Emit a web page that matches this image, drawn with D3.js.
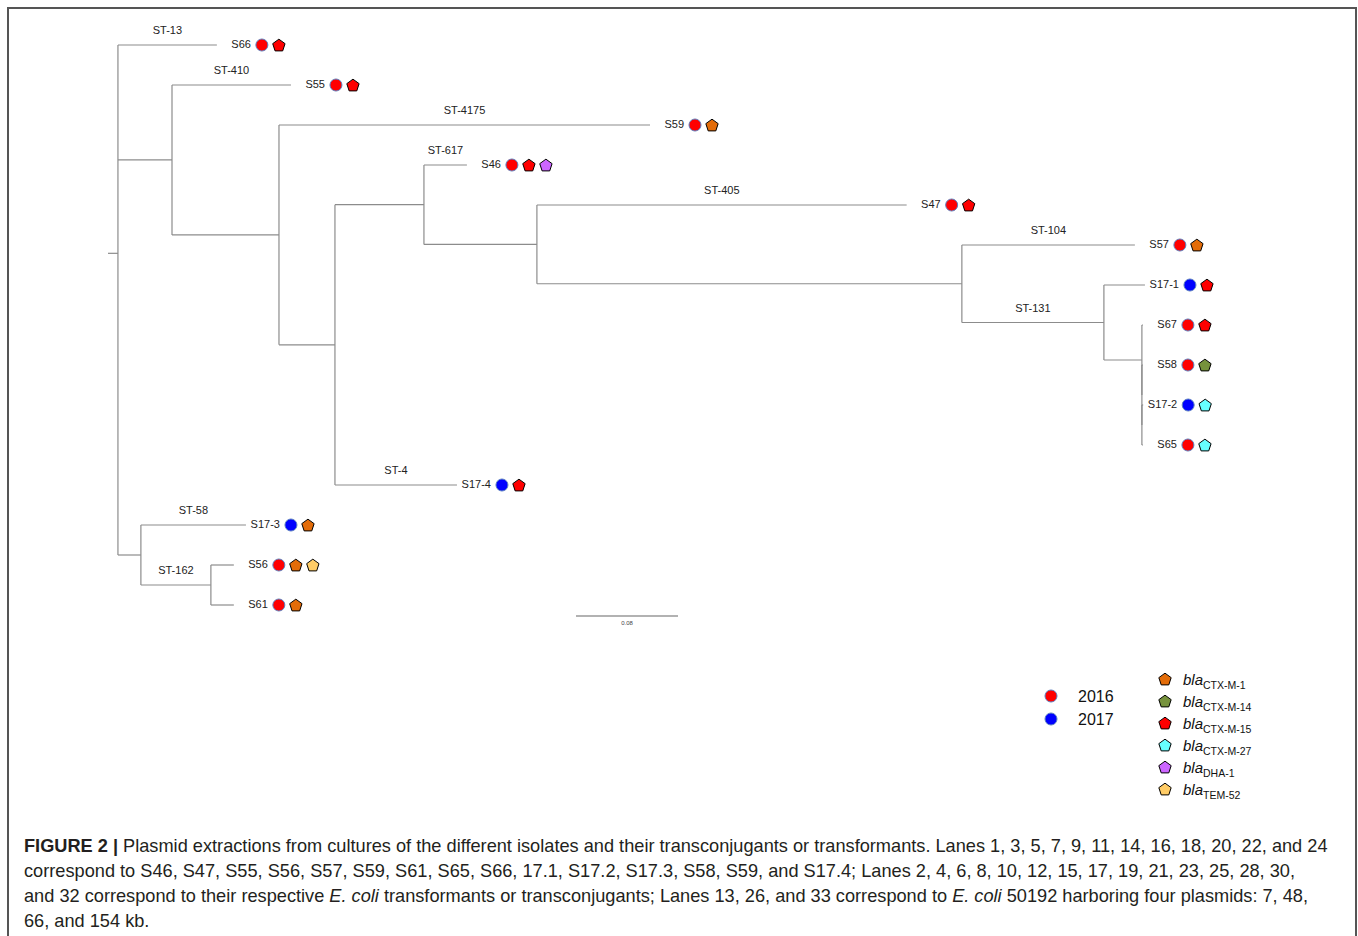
<!DOCTYPE html>
<html>
<head>
<meta charset="utf-8">
<script src="https://cdn.jsdelivr.net/npm/d3@7"></script>
<style>
  body { margin: 0; background: #fff; }
  text { font-family: "Liberation Sans", Arial, sans-serif; }
</style>
</head>
<body>
<svg id="tree_fig" width="1358" height="936"></svg>
<script>
(() => {

// tree: [node, parent, branch length]
const edges = [
    ['root', null, 0.0078],
    ['S66', 'root', 0.0776],
    ['n1', 'root', 0.0424],
    ['n10', 'root', 0.018],
    ['S55', 'n1', 0.0933],
    ['n2', 'n1', 0.0839],
    ['S59', 'n2', 0.291],
    ['n3', 'n2', 0.0439],
    ['n4', 'n3', 0.0698],
    ['S17-4', 'n3', 0.0957],
    ['S46', 'n4', 0.0337],
    ['n5', 'n4', 0.0886],
    ['S47', 'n5', 0.290],
    ['n6', 'n5', 0.3333],
    ['S57', 'n6', 0.1357],
    ['n7', 'n6', 0.1114],
    ['S17-1', 'n7', 0.0322],
    ['n8', 'n7', 0.0298],
    ['S67', 'n8', 0.0008],
    ['n9', 'n8', 0.0],
    ['S58', 'n9', 0.0008],
    ['n9b', 'n9', 0.0],
    ['S17-2', 'n9b', 0.0010],
    ['S65', 'n9b', 0.0008],
    ['S17-3', 'n10', 0.0824],
    ['n11', 'n10', 0.0549],
    ['S56', 'n11', 0.018],
    ['S61', 'n11', 0.018]
];

// sequence types written over branches
const st_nodes  = ['S66', 'S55', 'S59', 'S46', 'S47', 'S57', 'n7', 'S17-4', 'S17-3', 'n11'];
const st_labels = ['ST-13', 'ST-410', 'ST-4175', 'ST-617', 'ST-405', 'ST-104', 'ST-131', 'ST-4', 'ST-58', 'ST-162'];

// isolates: year and bla genes
const isolates = ['S66', 'S55', 'S59', 'S46', 'S47', 'S57', 'S17-1', 'S67', 'S58', 'S17-2', 'S65', 'S17-4', 'S17-3', 'S56', 'S61'];
const years    = ['2016', '2016', '2016', '2016', '2016', '2016', '2017', '2016', '2016', '2017', '2016', '2017', '2017', '2016', '2016'];
const bla      = [['CTX-M-15'], ['CTX-M-15'], ['CTX-M-1'], ['CTX-M-15', 'DHA-1'], ['CTX-M-15'], ['CTX-M-1'],
                  ['CTX-M-15'], ['CTX-M-15'], ['CTX-M-14'], ['CTX-M-27'], ['CTX-M-27'], ['CTX-M-15'],
                  ['CTX-M-1'], ['CTX-M-1', 'TEM-52'], ['CTX-M-1']];

const year_keys = ['2016', '2017'];
const gene_keys = ['CTX-M-1', 'CTX-M-14', 'CTX-M-15', 'CTX-M-27', 'DHA-1', 'TEM-52'];

const scale_bar_value = 0.08;

const caption_lines = [
    [['FIGURE 2 | ', 'b'], ['Plasmid extractions from cultures of the different isolates and their transconjugants or transformants. Lanes 1, 3, 5, 7, 9, 11, 14, 16, 18, 20, 22, and 24', '']],
    [['correspond to S46, S47, S55, S56, S57, S59, S61, S65, S66, 17.1, S17.2, S17.3, S58, S59, and S17.4; Lanes 2, 4, 6, 8, 10, 12, 15, 17, 19, 21, 23, 25, 28, 30,', '']],
    [['and 32 correspond to their respective ', ''], ['E. coli', 'i'], [' transformants or transconjugants; Lanes 13, 26, and 33 correspond to ', ''], ['E. coli', 'i'], [' 50192 harboring four plasmids: 7, 48,', '']],
    [['66, and 154 kb.', '']]
];

// colours
const year_color = d3.scaleOrdinal().domain(year_keys).range(['#ff0000', '#0000ff']);
const gene_color = d3.scaleOrdinal().domain(gene_keys)
    .range(['#e36c09', '#76923c', '#ff0000', '#66ffff', '#cc66ff', '#ffcc66']);

const line_color = '#8c8c8c';

let svg = d3.select('#tree_fig');

// figure frame
svg.append('path')
    .attr('d', 'M8,940 V8 H1356 V940')
    .attr('fill', 'none')
    .attr('stroke', '#555')
    .attr('stroke-width', 2);

// build hierarchy
let root = d3.stratify()
    .id(d => d[0])
    .parentId(d => d[1])(edges);

root.eachBefore(d => d.len = (d.parent ? d.parent.len : 0) + d.data[2]);

let x_scale = d3.scaleLinear().domain([0, 0.8]).range([108, 1128]);
let y_scale = d3.scalePoint().domain(isolates).range([45, 605]);

root.eachAfter(d => {
    if (d.children) d.y = d3.mean(d.children, c => c.y);
    else d.y = y_scale(d.id);
    d.x = x_scale(d.len);
});

let g_tree = svg.append('g')
    .attr('fill', 'none')
    .attr('stroke', line_color)
    .attr('stroke-width', 1.2);

// root stub
g_tree.append('line')
    .attr('x1', x_scale(0)).attr('x2', root.x)
    .attr('y1', root.y).attr('y2', root.y);

// horizontal branches
g_tree.selectAll('.hbranch')
    .data(root.descendants().filter(d => d.parent))
    .enter()
    .append('line')
    .attr('x1', d => d.parent.x).attr('x2', d => d.x)
    .attr('y1', d => d.y).attr('y2', d => d.y);

// vertical connectors
g_tree.selectAll('.vbranch')
    .data(root.descendants().filter(d => d.children))
    .enter()
    .append('line')
    .attr('x1', d => d.x).attr('x2', d => d.x)
    .attr('y1', d => d3.min(d.children, c => c.y))
    .attr('y2', d => d3.max(d.children, c => c.y));

// ST labels
let node_by_id = new Map(root.descendants().map(d => [d.id, d]));
svg.append('g')
    .selectAll('text')
    .data(st_nodes)
    .enter()
    .append('text')
    .attr('x', d => (node_by_id.get(d).parent.x + node_by_id.get(d).x) / 2)
    .attr('y', d => node_by_id.get(d).y - 11)
    .attr('text-anchor', 'middle')
    .style('font-size', '11px')
    .style('fill', '#222')
    .text((d, i) => st_labels[i]);

// pentagon symbol
const pentagon = {
    draw(context, size) {
        let r = Math.sqrt(size / 2.378);
        for (let k = 0; k < 5; k++) {
            let a = -Math.PI / 2 + k * 2 * Math.PI / 5;
            let px = r * Math.cos(a), py = r * Math.sin(a) + r * 0.1;
            if (k == 0) context.moveTo(px, py); else context.lineTo(px, py);
        }
        context.closePath();
    }
};
let pent_path = d3.symbol().type(pentagon).size(100)();

// leaf labels and markers
const circle_gap = 45;
const marker_step = 17;

let leaves = svg.append('g')
    .selectAll('g')
    .data(isolates)
    .enter()
    .append('g')
    .attr('transform', d => `translate(${node_by_id.get(d).x + circle_gap}, ${node_by_id.get(d).y})`);

leaves.append('text')
    .attr('x', -11)
    .attr('dy', '0.3em')
    .attr('text-anchor', 'end')
    .style('font-size', '11px')
    .style('fill', '#222')
    .text(d => d);

leaves.append('circle')
    .attr('r', 6)
    .attr('fill', (d, i) => year_color(years[i]))
    .attr('stroke', '#5b7fc0')
    .attr('stroke-width', 1);

leaves.selectAll('path')
    .data((d, i) => bla[i])
    .enter()
    .append('path')
    .attr('d', pent_path)
    .attr('transform', (d, j) => `translate(${marker_step * (j + 1)}, 0)`)
    .attr('fill', d => gene_color(d))
    .attr('stroke', '#000')
    .attr('stroke-width', 1);

// scale bar
let bar_x0 = 576;
svg.append('line')
    .attr('x1', bar_x0)
    .attr('x2', bar_x0 + x_scale(scale_bar_value) - x_scale(0))
    .attr('y1', 616).attr('y2', 616)
    .attr('stroke', '#666').attr('stroke-width', 1.2);
svg.append('text')
    .attr('x', bar_x0 + (x_scale(scale_bar_value) - x_scale(0)) / 2)
    .attr('y', 625)
    .attr('text-anchor', 'middle')
    .style('font-size', '6px')
    .style('fill', '#444')
    .text(scale_bar_value.toFixed(2));

// year legend
let year_legend = svg.append('g')
    .selectAll('g')
    .data(year_keys)
    .enter()
    .append('g')
    .attr('transform', (d, i) => `translate(1051, ${696 + i * 23})`);
year_legend.append('circle')
    .attr('r', 6)
    .attr('fill', d => year_color(d))
    .attr('stroke', '#5b7fc0');
year_legend.append('text')
    .attr('x', 27)
    .attr('dy', '0.36em')
    .style('font-size', '16px')
    .style('fill', '#111')
    .text(d => d);

// gene legend
let gene_legend = svg.append('g')
    .selectAll('g')
    .data(gene_keys)
    .enter()
    .append('g')
    .attr('transform', (d, i) => `translate(1165, ${679 + i * 22})`);
gene_legend.append('path')
    .attr('d', pent_path)
    .attr('fill', d => gene_color(d))
    .attr('stroke', '#000');
let gene_text = gene_legend.append('text')
    .attr('x', 18)
    .attr('y', 6)
    .style('fill', '#111');
gene_text.append('tspan')
    .style('font-size', '15px')
    .style('font-style', 'italic')
    .text('bla');
gene_text.append('tspan')
    .attr('dy', 4)
    .style('font-size', '10.5px')
    .text(d => d);

// caption
let caption = svg.append('text')
    .attr('x', 24)
    .attr('y', 852)
    .style('font-size', '18.2px')
    .style('fill', '#231f20');

caption_lines.forEach((line, i) => {
    line.forEach(([txt, kind], j) => {
        let t = caption.append('tspan').text(txt);
        if (j == 0) t.attr('x', 24).attr('y', 852 + i * 25);
        if (kind == 'b') t.style('font-weight', 'bold');
        if (kind == 'i') t.style('font-style', 'italic');
    });
});

})();
</script>
</body>
</html>
